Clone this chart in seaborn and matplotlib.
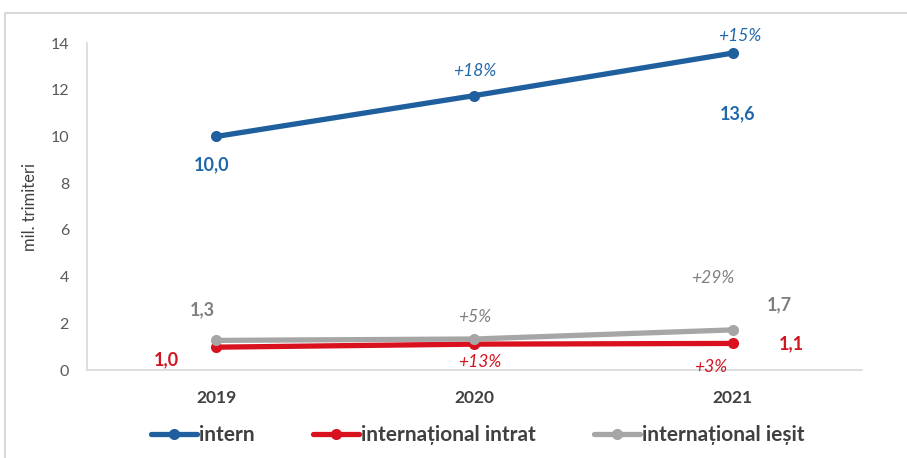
import pandas as pd
import matplotlib.pyplot as plt
import seaborn as sns
from matplotlib.patches import Rectangle
from matplotlib.lines import Line2D

years = ["2019", "2020", "2021"]
intern = [10.0, 11.75, 13.57]
intrat = [0.98, 1.11, 1.14]
iesit = [1.27, 1.33, 1.72]
series_names = ["intern", "internațional intrat", "internațional ieșit"]
value_labels = {
    "intern": ["10,0", None, "13,6"],
    "internațional intrat": ["1,0", None, "1,1"],
    "internațional ieșit": ["1,3", None, "1,7"],
}
growth_labels = {
    "intern": [None, "+18%", "+15%"],
    "internațional intrat": [None, "+13%", "+3%"],
    "internațional ieșit": [None, "+5%", "+29%"],
}

df = pd.DataFrame({
    "An": years * 3,
    "Valoare": intern + intrat + iesit,
    "Serie": [s for s in series_names for _ in years],
})

line_colors = {"intern": "#1f5f9e", "internațional intrat": "#d9101e", "internațional ieșit": "#a6a6a6"}
text_colors = {"intern": "#2168aa", "internațional intrat": "#d01420", "internațional ieșit": "#7f7f7f"}

sns.set_theme(style="white")
plt.rcParams["font.family"] = ["Lato", "DejaVu Sans"]

fig = plt.figure(figsize=(9.07, 4.58), dpi=100)
ax = fig.add_axes([0.096, 0.192, 0.854, 0.714])

sns.lineplot(data=df, x="An", y="Valoare", hue="Serie", palette=line_colors,
             hue_order=series_names, marker="o", markersize=8, markeredgewidth=0,
             linewidth=3.8, ax=ax, legend=False, sort=False)

ax.set_xlim(-0.5, 2.5)
ax.set_ylim(0, 14)
ax.set_yticks(range(0, 15, 2))
ax.set_xlabel("")
ax.set_ylabel("mil. trimiteri", fontsize=12, color="#404040", labelpad=9)
ax.tick_params(axis="y", labelsize=11.5, colors="#595959", length=0, pad=13)
ax.tick_params(axis="x", length=0, pad=14)
for lbl in ax.get_xticklabels():
    lbl.set_fontweight("bold")
    lbl.set_fontsize(12.5)
    lbl.set_color("#404040")
for side in ["top", "right"]:
    ax.spines[side].set_visible(False)
for side in ["left", "bottom"]:
    ax.spines[side].set_color("#d9d9d9")
    ax.spines[side].set_linewidth(1.2)

series_vals = {"intern": intern, "internațional intrat": intrat, "internațional ieșit": iesit}
value_offsets = {
    "intern": [(-3, -20), None, (4, -44)],
    "internațional intrat": [(-36, -9), None, (42, 0)],
    "internațional ieșit": [(-10, 22), None, (34, 18)],
}
growth_offsets = {
    "intern": [None, (0, 18), (5, 12)],
    "internațional intrat": [None, (4, -13), (-16, -17)],
    "internațional ieșit": [None, (0, 16), (-14, 37)],
}
for s in series_names:
    vals = series_vals[s]
    for i in range(3):
        if value_labels[s][i]:
            ax.annotate(value_labels[s][i], (i, vals[i]), xytext=value_offsets[s][i],
                        textcoords="offset points", ha="center", va="center",
                        fontsize=13, fontweight="bold", color=text_colors[s])
        if growth_labels[s][i]:
            ax.annotate(growth_labels[s][i], (i, vals[i]), xytext=growth_offsets[s][i],
                        textcoords="offset points", ha="center", va="center",
                        fontsize=12.5, fontstyle="italic", color=text_colors[s])

handles = [Line2D([0], [0], color=line_colors[s], lw=3.8, marker="o", markersize=8,
                  markeredgewidth=0) for s in series_names]
leg = fig.legend(handles, series_names, loc="center", bbox_to_anchor=(0.527, 0.05),
                 ncol=3, frameon=False, columnspacing=2.8, handlelength=2.2,
                 handletextpad=0.1, prop={"size": 15, "weight": "bold"})
for t in leg.get_texts():
    t.set_color("#404040")

fig.patches.append(Rectangle((5 / 907, -0.01), 1.0, 1 - 13 / 458 + 0.01,
                             transform=fig.transFigure, fill=False,
                             edgecolor="#d9d9d9", linewidth=1.5))

fig.savefig("out.png", dpi=100)
